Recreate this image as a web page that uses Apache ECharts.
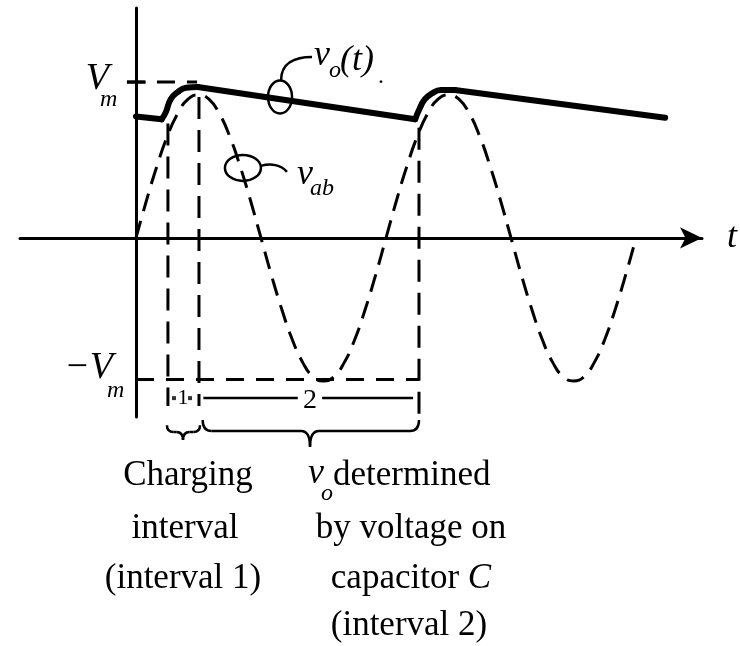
<!DOCTYPE html>
<html><head><meta charset="utf-8">
<script src="https://cdn.jsdelivr.net/npm/echarts@6/dist/echarts.min.js"></script>
<style>html,body{margin:0;padding:0;background:#fff}#c{width:740px;height:646px}</style>
</head><body><div id="c"></div>
<script>
// ---- data (x: wt in degrees, y: voltage in units of the vab amplitude) ----
const vabT = [0,15,30,45,60,75,90,105,120,135,150,165,180,195,210,225,240,255,270,285,300,315,330,345,360,375,390,405,420,435,450,465,480,495,510,525,540,555,570,585,600,615,630,645,660,675,690,705,720];
const vabV = [0,0.26,0.5,0.71,0.87,0.97,1,0.97,0.87,0.71,0.5,0.26,0,-0.26,-0.5,-0.71,-0.87,-0.97,-1,-0.97,-0.87,-0.71,-0.5,-0.26,0,0.26,0.5,0.71,0.87,0.97,1,0.97,0.87,0.71,0.5,0.26,0,-0.26,-0.5,-0.71,-0.87,-0.97,-1,-0.97,-0.87,-0.71,-0.5,-0.26,0];
const voLead  = [[0,0.85],[37,0.83]];
const voCap1  = [[37,0.83],[43,0.88],[50,0.97],[60,1.02],[72,1.05],[89,1.055]];
const voFall1 = [[89,1.055],[402,0.83]];
const voCap2  = [[402,0.83],[408,0.90],[416,0.97],[426,1.01],[439,1.035],[459,1.035]];
const voFall2 = [[459,1.035],[762,0.84]];
const vmLevel = 1.09, negVmLevel = -0.99, intervalRow = -1.12;
const boundaryT   = [46, 90.7, 407.5];
const boundaryTop = [0.80, 0.986, 0.77];
const boundaryBot = [-1.175, -1.175, -1.28];
const interval2Segs = [[[97,-1.12],[233,-1.12]],[[268,-1.12],[399,-1.12]]];
const interval1Dots = [[54.7,-1.12],[77.8,-1.12]];
// brace: [x1, x2, xTip, yEnds, yBar, yTip]
const braces = [[44.6,92.2,67.7,-1.31,-1.357,-1.413],[96,407.5,250.6,-1.273,-1.35,-1.46]];
const loops = [[207.4,0.986],[154,0.49]];
const labelTexts = {vo:['v','o','(t)','.'], vab:['v','ab'], vm:['V','m'], nvm:['\u2212V','m'], t:'t',
  one:'1', two:'2',
  left:['Charging','interval','(interval 1)'],
  right:['v','o','determined','by voltage on','capacitor {i|C}','(interval 2)']};

const K = '#000';
const SERIF = '"Liberation Serif","Times New Roman",serif';
const chart = echarts.init(document.getElementById('c'), null, {renderer:'canvas'});
function seg(data, opts) {
  return Object.assign({type:'line', data, symbol:'none', silent:true, clip:false, animation:false,
    lineStyle:{color:K, width:3}}, opts || {});
}
const series = [];
series.push(seg(vabT.map((t,i)=>[t,vabV[i]]), {smooth:0.5, lineStyle:{color:K,width:3,type:[18,10]}}));
boundaryT.forEach((t,i)=>series.push(seg([[t,boundaryTop[i]],[t,boundaryBot[i]]], {lineStyle:{color:K,width:3,type:[22,11]}})));
series.push(seg([[-13,vmLevel],[88,vmLevel]], {lineStyle:{color:K,width:3,type:[18,12]}}));
series.push(seg([[0,negVmLevel],[407.5,negVmLevel]], {lineStyle:{color:K,width:3,type:[18,12]}}));
series.push(seg([[-13,vmLevel],[14,vmLevel]]));
series.push(seg([[0,negVmLevel],[20,negVmLevel]]));
interval2Segs.forEach(s=>series.push(seg(s,{lineStyle:{color:K,width:2.5}})));
series.push({type:'scatter', data:interval1Dots, symbol:'rect', symbolSize:4, itemStyle:{color:K}, silent:true, animation:false});
const voStyle = {color:K, width:6, cap:'round', join:'round'};
[voLead, voCap1, voFall1, voCap2, voFall2].forEach((d,i)=>series.push(seg(d,{smooth:(i%2===1)?0.5:false, lineStyle:voStyle, z:5})));
series.push({type:'custom', silent:true, animation:false, clip:false, data:braces,
  renderItem:function(params, api){
    const x1=api.value(0), x2=api.value(1), xt=api.value(2), ye=api.value(3), yb=api.value(4), yt=api.value(5);
    const a=api.coord([x1,ye]), b=api.coord([x2,ye]), m=api.coord([xt,yb]), t=api.coord([xt,yt]);
    const y=m[1], r=Math.min(9,(b[0]-a[0])/5);
    const st={stroke:K, lineWidth:2.5, fill:null};
    return {type:'group', children:[
      {type:'bezierCurve', shape:{x1:a[0],y1:a[1],cpx1:a[0],cpy1:y,x2:a[0]+r,y2:y}, style:st},
      {type:'line', shape:{x1:a[0]+r,y1:y,x2:m[0]-r,y2:y}, style:st},
      {type:'bezierCurve', shape:{x1:m[0]-r,y1:y,cpx1:m[0],cpy1:y,x2:t[0],y2:t[1]}, style:st},
      {type:'bezierCurve', shape:{x1:t[0],y1:t[1],cpx1:m[0],cpy1:y,x2:m[0]+r,y2:y}, style:st},
      {type:'line', shape:{x1:m[0]+r,y1:y,x2:b[0]-r,y2:y}, style:st},
      {type:'bezierCurve', shape:{x1:b[0]-r,y1:y,cpx1:b[0],cpy1:y,x2:b[0],y2:b[1]}, style:st}
    ]};
  }});
series.push({type:'custom', silent:true, animation:false, clip:false, data:loops, z:6,
  renderItem:function(params, api){
    const c=api.coord([api.value(0),api.value(1)]);
    const st={stroke:K, lineWidth:2.5, fill:null};
    if (params.dataIndex===0) {
      return {type:'group', children:[
        {type:'ellipse', shape:{cx:c[0],cy:c[1],rx:12,ry:16.5}, style:st},
        {type:'bezierCurve', shape:{x1:c[0]+1,y1:c[1]-16.5,cpx1:c[0]+1,cpy1:c[1]-34,cpx2:c[0]+15,cpy2:c[1]-40,x2:c[0]+32,y2:c[1]-40}, style:st}
      ]};
    }
    return {type:'group', children:[
      {type:'ellipse', shape:{cx:c[0],cy:c[1],rx:18,ry:13}, style:st},
      {type:'bezierCurve', shape:{x1:c[0]+18,y1:c[1]-2,cpx1:c[0]+28,cpy1:c[1]-5,cpx2:c[0]+38,cpy2:c[1]-3,x2:c[0]+44,y2:c[1]+4}, style:st}
    ]};
  }});

chart.setOption({
  animation:false,
  backgroundColor:'#fff',
  grid:{left:20, right:38, top:8, bottom:229, containLabel:false},
  xAxis:{type:'value', min:-167, max:815,
    axisLine:{show:true, onZero:true, symbol:['none','arrow'], symbolSize:[16,22], lineStyle:{color:K,width:3}},
    axisTick:{show:false}, axisLabel:{show:false}, splitLine:{show:false}},
  yAxis:{type:'value', min:-1.252, max:1.608,
    axisLine:{show:true, onZero:true, lineStyle:{color:K,width:3}},
    axisTick:{show:false}, axisLabel:{show:false}, splitLine:{show:false}},
  series: series
});

const P = (x,y) => chart.convertToPixel({gridIndex:0},[x,y]);
function txt(text, x, y, size, italic, align, extra) {
  return Object.assign({type:'text', x:x, y:y, z:20, silent:true,
    style:Object.assign({text:text, fill:K, font:(italic?'italic ':'')+size+'px '+SERIF,
      fontSize:size, fontFamily:SERIF, fontStyle:italic?'italic':'normal',
      align:align||'left', verticalAlign:'middle', textAlign:align||'left', textVerticalAlign:'middle'}, extra||{})});
}
const A=P(0,vmLevel), B=P(0,negVmLevel), E1=P(loops[0][0],loops[0][1]), E2=P(loops[1][0],loops[1][1]);
const XE=P(815,0), I1=P(67.7,intervalRow), I2=P(250.6,intervalRow);
const g = [
  txt(labelTexts.vm[0], A[0]-27, A[1]-3, 38, true, 'right'),
  txt(labelTexts.vm[1], A[0]-36, A[1]+18, 24, true, 'left'),
  txt(labelTexts.nvm[0], B[0]-23, B[1]-12, 38, true, 'right'),
  txt(labelTexts.nvm[1], B[0]-29, B[1]+11, 24, true, 'left'),
  txt(labelTexts.vo[0], E1[0]+34, E1[1]-41, 36, true),
  txt(labelTexts.vo[1], E1[0]+49, E1[1]-26, 24, true),
  txt(labelTexts.vo[2], E1[0]+60, E1[1]-36, 36, true),
  txt(labelTexts.vo[3], E1[0]+98, E1[1]-20, 24, false),
  txt(labelTexts.vab[0], E2[0]+54, E2[1]+7, 36, true),
  txt(labelTexts.vab[1], E2[0]+67, E2[1]+21, 24, true),
  txt(labelTexts.t, XE[0]+25, XE[1], 36, true),
  txt(labelTexts.one, I1[0], I1[1], 22, false, 'center'),
  txt(labelTexts.two, I2[0], I2[1]+3, 28, false, 'center'),
  txt(labelTexts.left[0], 188, 476, 35, false, 'center'),
  txt(labelTexts.left[1], 185, 529, 35, false, 'center'),
  txt(labelTexts.left[2], 183, 579, 35, false, 'center'),
  txt(labelTexts.right[0], 308, 474, 36, true),
  txt(labelTexts.right[1], 321, 494, 24, true),
  txt(labelTexts.right[2], 333, 476, 35, false),
  txt(labelTexts.right[3], 411, 529, 35, false, 'center'),
  txt(labelTexts.right[4], 411, 579, 35, false, 'center', {rich:{i:{fontStyle:'italic', fontSize:35, fontFamily:SERIF}}}),
  txt(labelTexts.right[5], 409, 626, 35, false, 'center')
];
chart.setOption({graphic:{elements:g}});
</script>
</body></html>
